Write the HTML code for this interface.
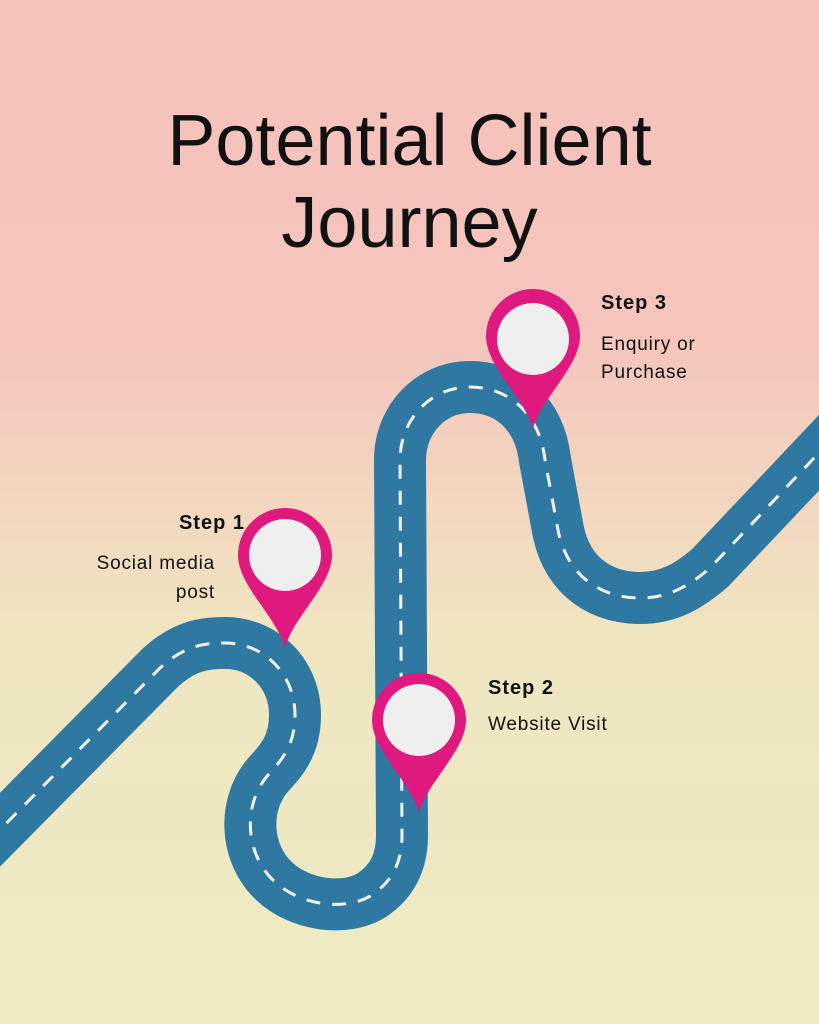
<!DOCTYPE html>
<html><head><meta charset="utf-8"><style>
html,body{margin:0;padding:0}
body{width:819px;height:1024px;overflow:hidden;background:linear-gradient(to bottom,#f5c2bc 0px,#f5c4bc 330px,#f3d6bf 500px,#efe6c1 640px,#eeebc4 1024px);font-family:"Liberation Sans",sans-serif;position:relative}
.t{position:absolute;color:#111;white-space:nowrap}
.b{font-size:20px;font-weight:bold;letter-spacing:1px}
.n{font-size:19px;letter-spacing:0.8px}
</style></head><body>
<svg width="819" height="1024" style="position:absolute;left:0;top:0">
<g fill="none" stroke-linejoin="round">
<path d="M -30,860 L 160,668 C 185,645 205,643 225,643 C 265,643 295,675 295,715 C 295,745 282,760 268,775 C 242,805 245,855 275,882 C 300,905 345,912 372,895 C 394,880 402,860 402,835 L 400,460 C 400,420 430,387 470,387 C 510,387 540,415 545,460 L 558,530 C 568,580 605,598 640,598 C 670,598 690,585 710,568 L 850,420" stroke="#2f78a1" stroke-width="52"/>
<path d="M -30,860 L 160,668 C 185,645 205,643 225,643 C 265,643 295,675 295,715 C 295,745 282,760 268,775 C 242,805 245,855 275,882 C 300,905 345,912 372,895 C 394,880 402,860 402,835 L 400,460 C 400,420 430,387 470,387 C 510,387 540,415 545,460 L 558,530 C 568,580 605,598 640,598 C 670,598 690,585 710,568 L 850,420" stroke="#f2f2f2" stroke-width="3" stroke-dasharray="14 12"/>
</g>
<g fill="#e0197f">
<path d="M285,647 C275,615 238,585 238,555 A47 47 0 1 1 332,555 C332,585 295,615 285,647 Z"/>
<path d="M419,812 C409,780 372,750 372,720 A47 47 0 1 1 466,720 C466,750 429,780 419,812 Z"/>
<path d="M533,428 C523,396 486,366 486,336 A47 47 0 1 1 580,336 C580,366 543,396 533,428 Z"/>
</g>
<g fill="#efefef">
<circle cx="285" cy="555" r="36"/>
<circle cx="419" cy="720" r="36"/>
<circle cx="533" cy="339" r="36"/>
</g>
</svg>
<div class="t" style="left:0;width:819px;text-align:center;top:100px;font-size:72px;line-height:82px">Potential Client<br>Journey</div>
<div class="t b" style="right:574px;top:512px">Step 1</div>
<div class="t n" style="right:604px;top:549px;line-height:29px;text-align:right">Social media<br>post</div>
<div class="t b" style="left:488px;top:677px">Step 2</div>
<div class="t n" style="left:488px;top:714px">Website Visit</div>
<div class="t b" style="left:601px;top:292px">Step 3</div>
<div class="t n" style="left:601px;top:331px;line-height:28px">Enquiry or<br>Purchase</div>
</body></html>
